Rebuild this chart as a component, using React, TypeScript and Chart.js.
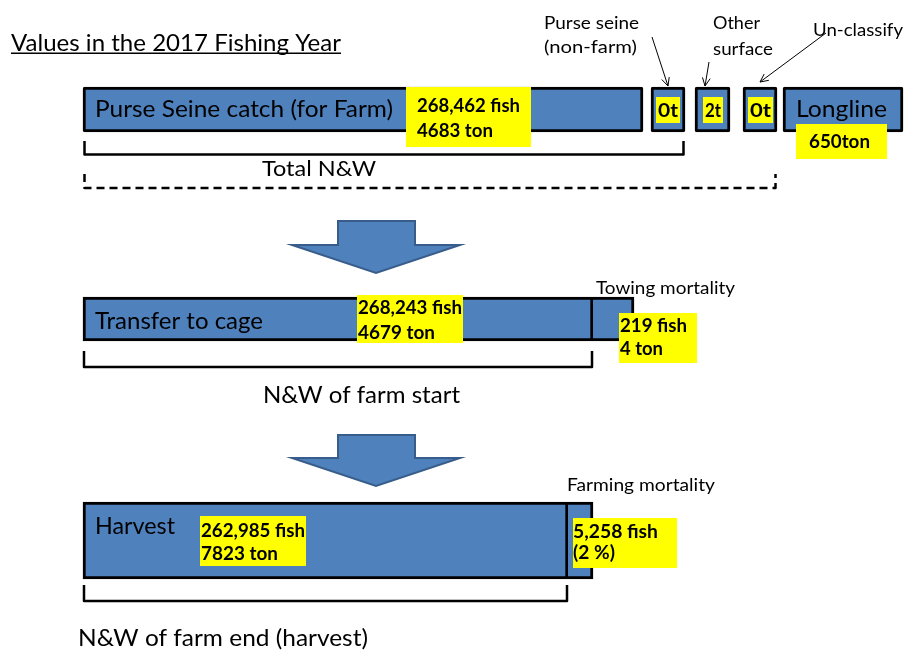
import { useEffect, useRef } from 'react';
import { Chart, registerables } from 'chart.js';

Chart.register(...registerables);

// ---------------- data ----------------
const titleText = 'Values in the 2017 Fishing Year';

const catchLabels = ['Purse Seine catch (for Farm)', 'Purse seine (non-farm)', 'Other surface', 'Un-classify', 'Longline'];
const catchSpans: [number, number][] = [[83, 643], [651, 685], [695, 730], [743, 777], [783, 903]];
const catchFish = [268462];
const catchTon = [4683, 0, 2, 0, 650];

const transferLabels = ['Transfer to cage', 'Towing mortality'];
const transferSpans: [number, number][] = [[83, 593], [593, 634]];
const transferFish = [268243, 219];
const transferTon = [4679, 4];

const harvestLabels = ['Harvest', 'Farming mortality'];
const harvestSpans: [number, number][] = [[83, 568], [568, 593]];
const harvestFish = [262985, 5258];
const harvestTon = [7823];
const farmingMortalityPct = [2];

const stageCaptions = ['Total N&W', 'N&W of farm start', 'N&W of farm end (harvest)'];

// ---------------- layout / style ----------------
const W = 905;
const H = 652;
const ROW_Y = [109.5, 319, 540.5];
const ROW_H = [45, 44, 77];
const BLUE = '#4F81BD';
const BLUE_EDGE = '#385D8A';
const YELLOW = '#FFFF00';
const FONT = 'Lato, "Open Sans", sans-serif';

const fmt = (n: number) => n.toLocaleString('en-US');

function txt(ctx: CanvasRenderingContext2D, s: string, x: number, y: number, size: number, width: number, bold = false) {
  ctx.save();
  ctx.font = `${bold ? 'bold ' : ''}${size}px ${FONT}`;
  ctx.fillStyle = '#000';
  ctx.textAlign = 'left';
  ctx.textBaseline = 'alphabetic';
  const w = ctx.measureText(s).width;
  ctx.translate(x, y);
  if (width && w > 0) ctx.scale(width / w, 1);
  ctx.fillText(s, 0, 0);
  ctx.restore();
}

const diagramPlugin = {
  id: 'diagram',
  afterDatasetsDraw(chart: any) {
    const ctx: CanvasRenderingContext2D = chart.ctx;
    const X = (v: number) => chart.scales.x.getPixelForValue(v);
    const Y = (v: number) => chart.scales.y.getPixelForValue(v);

    // block arrows
    const blockArrow = (cx: number, top: number, neck: number, tip: number) => {
      ctx.save();
      ctx.beginPath();
      ctx.moveTo(X(cx - 38), Y(top));
      ctx.lineTo(X(cx + 39), Y(top));
      ctx.lineTo(X(cx + 39), Y(neck));
      ctx.lineTo(X(cx + 84), Y(neck));
      ctx.lineTo(X(cx), Y(tip));
      ctx.lineTo(X(cx - 84), Y(neck));
      ctx.lineTo(X(cx - 38), Y(neck));
      ctx.closePath();
      ctx.fillStyle = BLUE;
      ctx.fill();
      ctx.strokeStyle = BLUE_EDGE;
      ctx.lineWidth = 2;
      ctx.lineJoin = 'miter';
      ctx.stroke();
      ctx.restore();
    };
    blockArrow(376, 221, 245, 273);
    blockArrow(376, 435, 458, 486);

    // brackets
    const bracket = (x1: number, x2: number, yTop: number, yBot: number, dashed = false) => {
      ctx.save();
      ctx.beginPath();
      ctx.moveTo(x1, Y(yTop));
      ctx.lineTo(x1, Y(yBot));
      ctx.lineTo(x2, Y(yBot));
      ctx.lineTo(x2, Y(yTop));
      ctx.strokeStyle = '#000';
      ctx.lineWidth = 2.5;
      ctx.lineJoin = 'round';
      if (dashed) ctx.setLineDash([8, 5]);
      ctx.stroke();
      ctx.restore();
    };
    bracket(X(catchSpans[0][0]) + 1.5, X(catchSpans[1][1]) - 1.5, 141, 154.5);
    bracket(X(catchSpans[0][0]) + 1.5, X(catchSpans[3][1]) - 1.5, 174, 188, true);
    bracket(X(transferSpans[0][0]) + 1, X(transferSpans[0][1]) - 1, 351, 367);
    bracket(X(harvestSpans[0][0]) + 1, X(harvestSpans[0][1]) - 1, 585, 601);

    // yellow label boxes
    const yb = (x: number, y: number, w: number, h: number) => {
      ctx.fillStyle = YELLOW;
      ctx.fillRect(X(x), Y(y), X(x + w) - X(x), Y(y + h) - Y(y));
    };
    yb(406, 87, 125, 60);
    txt(ctx, `${fmt(catchFish[0])} fish`, X(417), Y(112), 19, 103, true);
    txt(ctx, `${catchTon[0]} ton`, X(417), Y(137), 19, 76, true);

    const smallBoxes = [[656, 24], [703, 20], [748, 25]];
    smallBoxes.forEach(([bx, bw], i) => {
      yb(bx, 97, bw, 26);
      txt(ctx, `${catchTon[i + 1]}t`, X(bx + 2), Y(117), 19, bw - 4, true);
    });

    yb(796, 124, 91, 35);
    txt(ctx, `${catchTon[4]}ton`, X(809), Y(148), 19, 61, true);

    yb(357, 295, 106, 48);
    txt(ctx, `${fmt(transferFish[0])} fish`, X(358), Y(314), 19, 104, true);
    txt(ctx, `${transferTon[0]} ton`, X(358), Y(339), 19, 77, true);

    yb(619, 313, 78, 50);
    txt(ctx, `${fmt(transferFish[1])} fish`, X(620), Y(332), 19, 67, true);
    txt(ctx, `${transferTon[1]} ton`, X(620), Y(355), 19, 43, true);

    yb(200, 516, 106, 50);
    txt(ctx, `${fmt(harvestFish[0])} fish`, X(201), Y(537), 19, 104, true);
    txt(ctx, `${harvestTon[0]} ton`, X(201), Y(560), 19, 77, true);

    yb(573, 518, 104, 50);
    txt(ctx, `${fmt(harvestFish[1])} fish`, X(573), Y(538), 19, 85, true);
    txt(ctx, `(${farmingMortalityPct[0]} %)`, X(573), Y(559), 19, 42, true);

    // texts in bars
    txt(ctx, catchLabels[0], X(95), Y(117), 23, 298);
    txt(ctx, catchLabels[4], X(796), Y(117), 23, 91);
    txt(ctx, transferLabels[0], X(95), Y(329), 23, 168);
    txt(ctx, harvestLabels[0], X(95), Y(534), 23, 80);

    // title
    txt(ctx, titleText, X(11), Y(51), 23, 330);
    ctx.fillStyle = '#000';
    ctx.fillRect(X(11), Y(52.5), 330, 1.5);

    // callouts above row 1
    const cut = catchLabels[1].indexOf(' (');
    txt(ctx, catchLabels[1].slice(0, cut), X(544), Y(29), 17, 95);
    txt(ctx, catchLabels[1].slice(cut + 1), X(544), Y(53), 17, 93);
    const [os1, os2] = catchLabels[2].split(' ');
    txt(ctx, os1, X(713), Y(29), 17, 47);
    txt(ctx, os2, X(713), Y(55), 17, 60);
    txt(ctx, catchLabels[3], X(813), Y(36), 17, 90);

    const callout = (x1: number, y1: number, x2: number, y2: number) => {
      const ax = X(x2), ay = Y(y2);
      const ang = Math.atan2(ay - Y(y1), ax - X(x1));
      ctx.save();
      ctx.strokeStyle = '#000';
      ctx.lineWidth = 1;
      ctx.beginPath();
      ctx.moveTo(X(x1), Y(y1));
      ctx.lineTo(ax, ay);
      const L = 9;
      for (const s of [-1, 1]) {
        ctx.moveTo(ax, ay);
        ctx.lineTo(ax - L * Math.cos(ang + s * 0.45), ay - L * Math.sin(ang + s * 0.45));
      }
      ctx.stroke();
      ctx.restore();
    };
    callout(652, 37, 668, 86);
    callout(709, 62, 705, 86);
    callout(826, 33, 760, 82);

    // mortality labels
    txt(ctx, transferLabels[1], X(596), Y(294), 18, 139);
    txt(ctx, harvestLabels[1], X(567), Y(491), 18, 148);

    // stage captions
    txt(ctx, stageCaptions[0], X(262), Y(176), 21, 114);
    txt(ctx, stageCaptions[1], X(263), Y(403), 23, 197);
    txt(ctx, stageCaptions[2], X(78), Y(646), 23, 290);
  },
};

export default function App() {
  const ref = useRef<HTMLCanvasElement | null>(null);

  useEffect(() => {
    if (!ref.current) return;
    const splitBorder = (c: any) => (c.dataIndex === 1 ? { top: 3, right: 3, bottom: 3, left: 0 } : 3);
    const chart = new Chart(ref.current, {
      type: 'bar',
      data: {
        datasets: [
          {
            label: 'Catch',
            data: catchSpans.map((s) => ({ x: s, y: ROW_Y[0] })) as any,
            backgroundColor: BLUE,
            borderColor: '#000',
            borderWidth: 3,
            borderSkipped: false,
            borderRadius: 2,
            barThickness: ROW_H[0],
            grouped: false,
          },
          {
            label: 'Transfer',
            data: transferSpans.map((s) => ({ x: s, y: ROW_Y[1] })) as any,
            backgroundColor: BLUE,
            borderColor: '#000',
            borderWidth: splitBorder,
            borderSkipped: false,
            barThickness: ROW_H[1],
            grouped: false,
          },
          {
            label: 'Harvest',
            data: harvestSpans.map((s) => ({ x: s, y: ROW_Y[2] })) as any,
            backgroundColor: BLUE,
            borderColor: '#000',
            borderWidth: splitBorder,
            borderSkipped: false,
            barThickness: ROW_H[2],
            grouped: false,
          },
        ] as any,
      },
      options: {
        indexAxis: 'y',
        responsive: false,
        maintainAspectRatio: false,
        devicePixelRatio: 1,
        animation: false,
        events: [],
        layout: { padding: 0 },
        scales: {
          x: { type: 'linear', min: 0, max: W, display: false, offset: false, grid: { offset: false } },
          y: { type: 'linear', min: 0, max: H, reverse: true, display: false, offset: false, grid: { offset: false } },
        },
        plugins: {
          legend: { display: false },
          tooltip: { enabled: false },
          title: { display: false },
        },
      } as any,
      plugins: [diagramPlugin],
    });
    return () => chart.destroy();
  }, []);

  return (
    <div style={{ position: 'absolute', left: 0, top: 0, width: W, height: H, background: '#fff' }}>
      <canvas ref={ref} width={W} height={H} style={{ display: 'block', width: W, height: H }} />
    </div>
  );
}
